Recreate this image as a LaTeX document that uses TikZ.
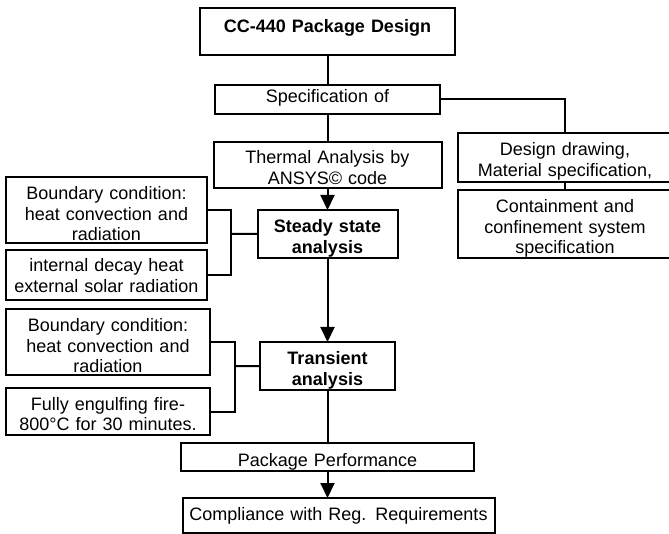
\documentclass[tikz,border=0pt]{standalone}
\usepackage{fontspec}
\setmainfont{Liberation Sans}
\usepackage{tikz}
\usetikzlibrary{positioning,arrows.meta}
\newcommand\boxfont{\fontsize{18}{20.7}\selectfont}
\tikzset{
  node-box/.style={draw,line width=2pt,rectangle,inner sep=0pt,outer sep=0pt,
    align=center,font=\boxfont},
  node-bold/.style={font=\boxfont\bfseries},
  % text height / text depth fix where the first baseline sits in each box
  link/.style={line width=2pt},
  arrow/.style={line width=2pt,-{Triangle[length=15pt,width=14pt]}},
}

\begin{document}
\begin{tikzpicture}[x=1pt,y=-1pt]
  \useasboundingbox (0,0) rectangle (669,534);
  \clip (0,0) rectangle (669,534);
  % main column
  \node[node-box,node-bold,text width=255pt,text height=24pt,text depth=22.7pt,anchor=north] (design) at (327.5,8.3) {CC-440 Package Design};
  \node[node-box,text width=225pt,text height=17.5pt,text depth=11.5pt,below=30pt of design] (spec) {Specification of};
  \node[node-box,text width=228pt,text height=21.5pt,text depth=24.5pt,below=28pt of spec] (thermal) {Thermal Analysis by\\ANSYS© code};
  \node[node-box,node-bold,text width=140pt,text height=23pt,text depth=25pt,below=22pt of thermal] (steady) {Steady state\\analysis};
  \node[node-box,node-bold,text width=135pt,text height=23pt,text depth=25pt,below=84pt of steady] (transient) {Transient\\analysis};
  \node[node-box,text width=293pt,text height=23pt,text depth=5pt,below=53pt of transient] (perform) {Package Performance};
  \node[node-box,text width=312pt,text height=22pt,text depth=13pt,below=27pt of perform,xshift=11pt] (comply) {Compliance with Reg. Requirements};
  % side boxes
  \node[node-box,text width=201pt,text height=22.5pt,text depth=43.5pt,anchor=north west] (bc-steady) at (6,177) {Boundary condition:\\heat convection and\\radiation};
  \node[node-box,text width=201pt,text height=21.5pt,text depth=28.5pt,below=7pt of bc-steady] (decay) {internal decay heat\\external solar radiation};
  \node[node-box,text width=204pt,text height=22.5pt,text depth=43.5pt,anchor=north west] (bc-fire) at (6,309) {Boundary condition:\\heat convection and\\radiation};
  \node[node-box,text width=204pt,text height=22pt,text depth=25pt,below=13pt of bc-fire] (fire) {Fully engulfing fire-\\800°C for 30 minutes.};
  \node[node-box,text width=215pt,text height=23pt,text depth=26pt,anchor=north west] (drawing) at (457.5,133) {Design drawing,\\Material specification,};
  \node[node-box,text width=215pt,text height=22.5pt,text depth=45.5pt,below=8pt of drawing] (contain) {Containment and\\confinement system\\specification};
  \coordinate (j-steady) at (231,234);
  \coordinate (j-trans) at (235,366);
  \draw[link] (design) -- (spec);
  \draw[link] (spec) -- (thermal);
  \draw[link] (spec.east) -| (drawing.north);
  \draw[link] (drawing) -- (contain);
  \draw[arrow] (thermal) -- (steady);
  \draw[link] (bc-steady.east) -| (j-steady) |- (decay.east);
  \draw[link] (j-steady) -- (steady.west);
  \draw[arrow] (steady) -- (transient);
  \draw[link] (bc-fire.east) -| (j-trans) |- (fire.east);
  \draw[link] (j-trans) -- (transient.west);
  \draw[link] (transient) -- (perform);
  \draw[arrow] (perform.south) -- (comply.north -| perform.south);
\end{tikzpicture}
\end{document}
